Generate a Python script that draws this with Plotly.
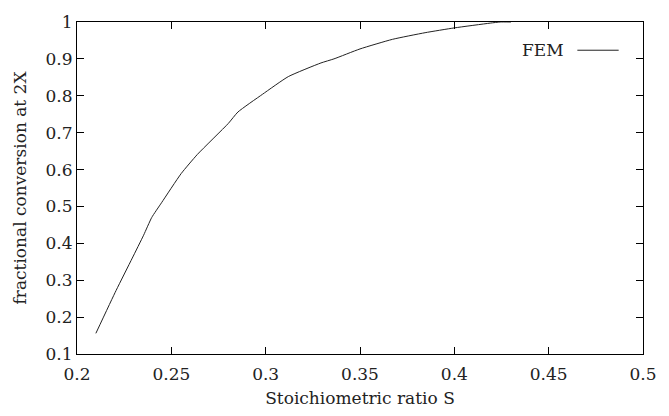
import plotly.graph_objects as go

# Data
s_ratio = [0.210, 0.2207, 0.2293, 0.2353, 0.2396, 0.2448, 0.2552, 0.2638, 0.2802,
           0.2853, 0.2983, 0.312, 0.3293, 0.3362, 0.350, 0.3672, 0.3845, 0.400,
           0.419, 0.4243, 0.430]
conversion = [0.156, 0.272, 0.360, 0.422, 0.470, 0.510, 0.589, 0.641, 0.725,
              0.756, 0.804, 0.852, 0.889, 0.900, 0.927, 0.953, 0.971, 0.984,
              0.997, 1.000, 1.000]
x_ticks = [0.2, 0.25, 0.3, 0.35, 0.4, 0.45, 0.5]
x_tick_labels = ["0.2", "0.25", "0.3", "0.35", "0.4", "0.45", "0.5"]
y_ticks = [0.1, 0.2, 0.3, 0.4, 0.5, 0.6, 0.7, 0.8, 0.9, 1.0]
y_tick_labels = ["0.1", "0.2", "0.3", "0.4", "0.5", "0.6", "0.7", "0.8", "0.9", "1"]
series_name = "FEM"

FONT = "DejaVu Serif"
fs = 17

fig = go.Figure()
fig.add_trace(go.Scatter(x=s_ratio, y=conversion, mode="lines", name=series_name,
                         line=dict(color="#222222", width=1, shape="spline", smoothing=0.5),
                         showlegend=False, cliponaxis=True))

axis_common = dict(showgrid=False, zeroline=False, showline=True, linecolor="black",
                   linewidth=1, mirror="ticks", ticks="inside", ticklen=7,
                   tickcolor="black", tickwidth=1, ticklabeloverflow="allow",
                   tickfont=dict(family=FONT, size=fs, color="#222222"))

fig.update_xaxes(range=[0.2, 0.5], tickvals=x_ticks, ticktext=x_tick_labels,
                 ticklabelstandoff=5,
                 title=dict(text="Stoichiometric ratio S",
                            font=dict(family=FONT, size=fs, color="#222222"),
                            standoff=8),
                 **axis_common)
fig.update_yaxes(range=[0.1, 1.0], tickvals=y_ticks, ticktext=y_tick_labels,
                 title=dict(text="fractional conversion at 2X",
                            font=dict(family=FONT, size=fs, color="#222222"),
                            standoff=14),
                 **axis_common)

# Legend (text left of line sample, as in the reference)
fig.add_annotation(xref="paper", yref="paper", x=0.864, y=0.915, xanchor="right",
                   yanchor="middle", text=series_name, showarrow=False,
                   font=dict(family=FONT, size=fs, color="#222222"))
fig.add_shape(type="line", xref="paper", yref="paper", x0=0.884, x1=0.957,
              y0=0.915, y1=0.915, line=dict(color="#222222", width=1))

fig.update_layout(width=669, height=416,
                  margin=dict(l=77, r=12, t=14, b=61),
                  paper_bgcolor="white", plot_bgcolor="white",
                  font=dict(family=FONT, size=fs, color="#222222"))

fig.write_html("out.html")
